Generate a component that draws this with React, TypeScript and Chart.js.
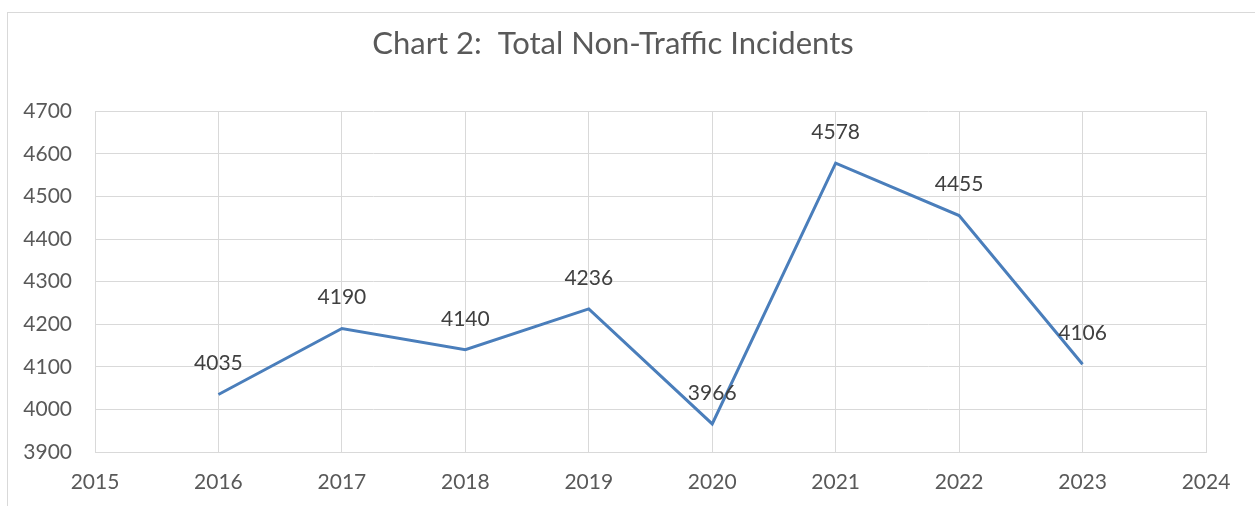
import React, { useEffect, useRef } from "react";
import { Chart, registerables } from "chart.js";

Chart.register(...registerables);

const years = [2016, 2017, 2018, 2019, 2020, 2021, 2022, 2023];
const incidents = [4035, 4190, 4140, 4236, 3966, 4578, 4455, 4106];
const titleText = "Chart 2:  Total Non-Traffic Incidents";
const xMin = 2015;
const xMax = 2024;
const yMin = 3900;
const yMax = 4700;
const yStep = 100;

const FONT = "Lato, 'Open Sans', sans-serif";

const dataLabelPlugin = {
  id: "dataLabels",
  afterDatasetsDraw(chart: any) {
    const ctx = chart.ctx;
    const meta = chart.getDatasetMeta(0);
    ctx.save();
    ctx.font = `21px ${FONT}`;
    ctx.fillStyle = "#404040";
    ctx.textAlign = "center";
    ctx.textBaseline = "middle";
    meta.data.forEach((pt: any, i: number) => {
      ctx.fillText(String(incidents[i]), pt.x, pt.y - 31);
    });
    ctx.restore();
  },
};

export default function App() {
  const ref = useRef<HTMLCanvasElement>(null);
  useEffect(() => {
    const canvas = ref.current!;
    const chart = new Chart(canvas, {
      type: "line",
      data: {
        datasets: [
          {
            data: years.map((y, i) => ({ x: y, y: incidents[i] })),
            borderColor: "#4A7EBB",
            borderWidth: 3,
            pointRadius: 0,
            tension: 0,
            fill: false,
          },
        ],
      },
      options: {
        animation: false,
        responsive: false,
        layout: { padding: { left: 12, right: 49, top: 0, bottom: 11 } },
        plugins: {
          legend: { display: false },
          tooltip: { enabled: false },
          title: {
            display: true,
            text: titleText,
            color: "#595959",
            font: { family: FONT, size: 31, weight: "normal" },
            padding: { top: 17, bottom: 49 },
          },
        },
        scales: {
          x: {
            type: "linear",
            min: xMin,
            max: xMax,
            ticks: {
              stepSize: 1,
              color: "#595959",
              font: { family: FONT, size: 21 },
              padding: 18,
              callback: (v: any) => String(v),
            },
            grid: { color: "#d9d9d9", drawTicks: false, lineWidth: 1 },
            border: { color: "#d9d9d9", width: 1 },
            afterFit: (s: any) => {
              s.height = 43;
            },
          },
          y: {
            min: yMin,
            max: yMax,
            ticks: {
              stepSize: yStep,
              color: "#595959",
              font: { family: FONT, size: 21 },
              padding: 23,
              callback: (v: any) => String(v),
            },
            grid: { color: "#d9d9d9", drawTicks: false, lineWidth: 1 },
            border: { color: "#d9d9d9", width: 1 },
            afterFit: (s: any) => {
              s.width = 75;
            },
          },
        },
      },
      plugins: [dataLabelPlugin],
    });
    return () => chart.destroy();
  }, []);

  return (
    <div style={{ position: "fixed", left: 0, top: 0, width: 1255, height: 506, overflow: "hidden", background: "#fff" }}>
      <div
        style={{
          position: "absolute",
          left: 7,
          top: 12,
          width: 1300,
          height: 600,
          border: "1px solid #d9d9d9",
          boxSizing: "border-box",
        }}
      />
      <canvas
        ref={ref}
        width={1247}
        height={498}
        style={{ position: "absolute", left: 8, top: 8, width: 1247, height: 498 }}
      />
    </div>
  );
}
